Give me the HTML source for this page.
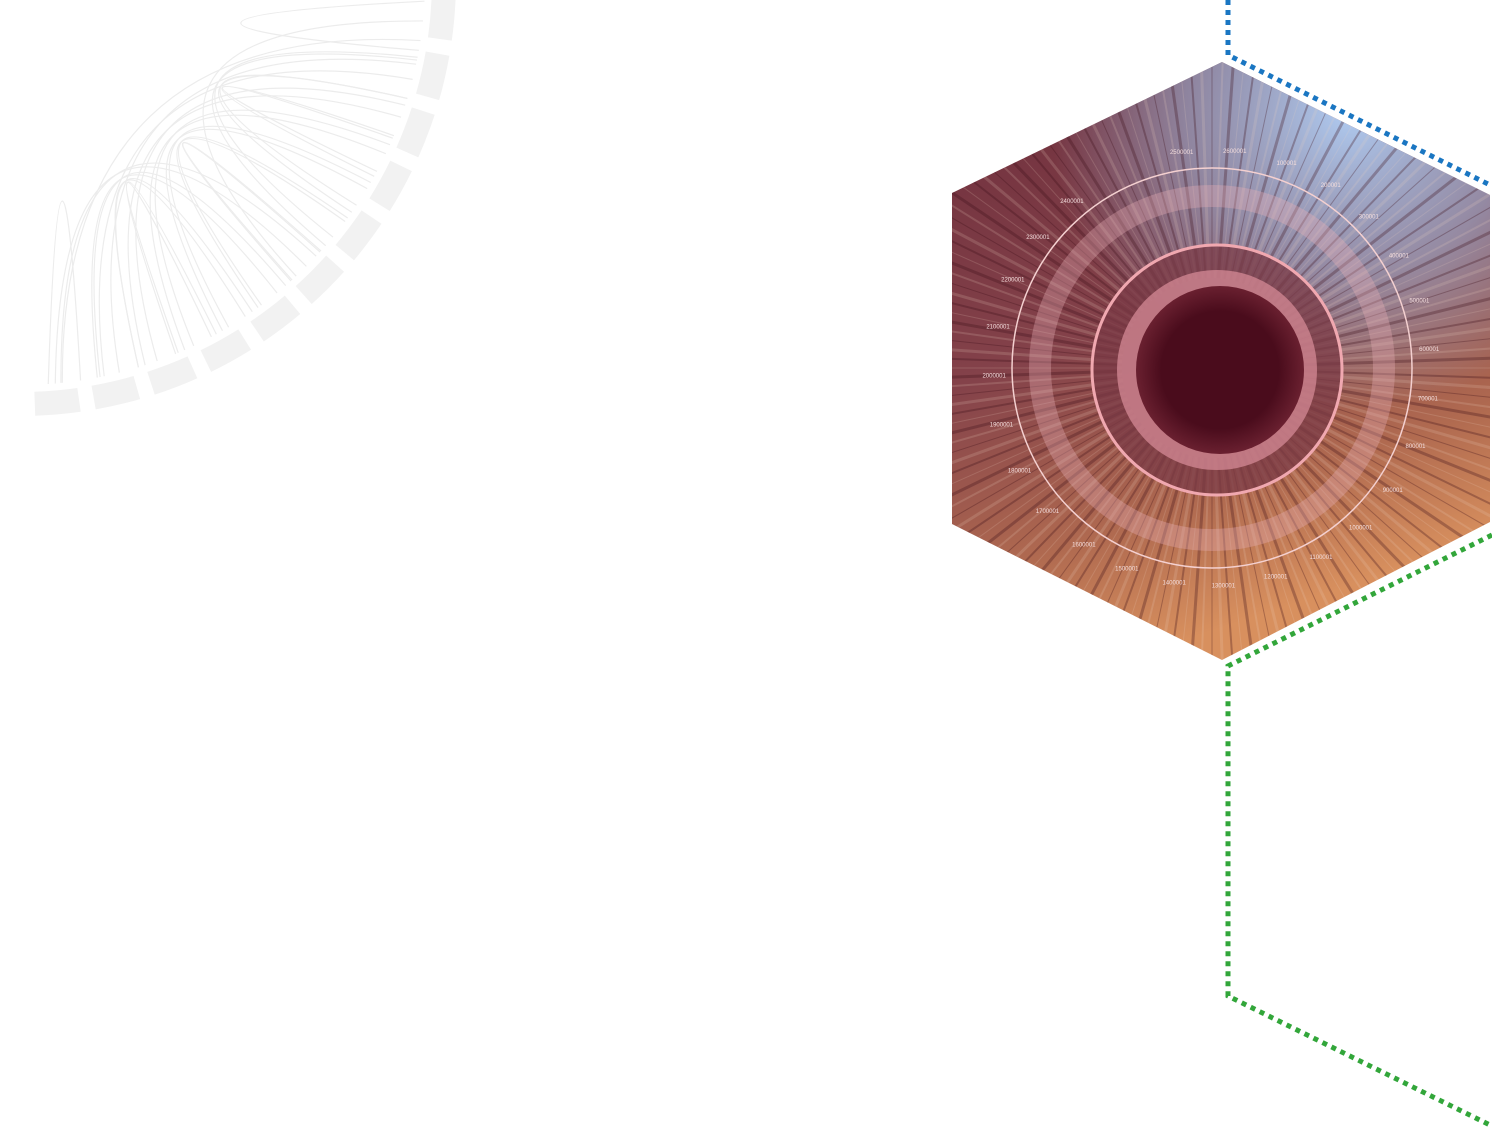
<!DOCTYPE html>
<html><head><meta charset="utf-8"><style>
html,body{margin:0;padding:0;background:#fff;width:1492px;height:1135px;overflow:hidden}
svg{display:block}
text{font-family:"Liberation Sans",sans-serif}
</style></head><body>
<svg id="root" width="1492" height="1135">
<defs>
<clipPath id="hex"><polygon points="1222,62 1490,195 1490,522 1222,660 952,524 952,193"/></clipPath>
<linearGradient id="bg" x1="0" y1="0" x2="0.3" y2="1">
<stop offset="0" stop-color="#6e2e3c"/><stop offset="0.5" stop-color="#84424a"/><stop offset="0.8" stop-color="#b06a50"/><stop offset="1" stop-color="#d8905e"/></linearGradient>
<radialGradient id="blue" cx="1350" cy="110" r="300" gradientUnits="userSpaceOnUse">
<stop offset="0" stop-color="#b0ccf2" stop-opacity="1"/><stop offset="0.55" stop-color="#9fb8dc" stop-opacity="0.6"/><stop offset="1" stop-color="#9fb4d8" stop-opacity="0"/></radialGradient>
<radialGradient id="pupil" cx="0.5" cy="0.5" r="0.5"><stop offset="0.7" stop-color="#4a0c1c"/><stop offset="1" stop-color="#6a2030"/></radialGradient>
</defs>
<g id="circos" stroke="#ececec" fill="none"></g>
<g clip-path="url(#hex)">
<rect x="950" y="60" width="545" height="605" fill="url(#bg)"/>
<rect x="950" y="60" width="545" height="605" fill="url(#blue)"/>
<g id="gills"></g>
<circle cx="1212" cy="368" r="172" fill="none" stroke="#e8b0b8" stroke-opacity="0.35" stroke-width="22"/>
<circle cx="1212" cy="368" r="200" fill="none" stroke="#f4d0d0" stroke-width="1.5"/>
<circle cx="1217" cy="370" r="125" fill="#7a3a46" fill-opacity="0.75" stroke="#f0a8b0" stroke-width="3"/>
<circle cx="1217" cy="370" r="100" fill="#d48a96" fill-opacity="0.75"/>
<circle cx="1220" cy="370" r="84" fill="url(#pupil)"/>
<g id="labels" fill="#f4dede" font-size="6"></g>
</g>
<polyline points="1228,0 1228,55 1492,186" fill="none" stroke="#1a76c2" stroke-width="5" stroke-dasharray="5,5"/>
<polyline points="1492,535 1228,666 1228,996 1492,1126" fill="none" stroke="#32a63a" stroke-width="5" stroke-dasharray="5,5"/>
</svg>
<script>
const ns="http://www.w3.org/2000/svg";
const labelVals=["2500001","2600001","100001","200001","300001","400001","500001","600001","700001","800001","900001","1000001","1100001","1200001","1300001","1400001","1500001","1600001","1700001","1800001","1900001","2000001","2100001","2200001","2300001","2400001"];
const labelAngles=[-98,-84,-70,-57,-44,-31,-18,-5,8,21,34,47,60,73,87,100,113,126,139,152,165,178,191,204,217,230];
const g=document.getElementById('gills');
for(let i=0;i<180;i++){const a=i*2*Math.PI/180;const l=document.createElementNS(ns,'line');
l.setAttribute('x1',1212+Math.cos(a)*90);l.setAttribute('y1',368+Math.sin(a)*90);
l.setAttribute('x2',1212+Math.cos(a)*420);l.setAttribute('y2',368+Math.sin(a)*420);
l.setAttribute('stroke',i%2?'#3a0c18':'#f0d0c0');l.setAttribute('stroke-opacity',i%2?0.3:0.18);l.setAttribute('stroke-width',i%3+1);


g.appendChild(l);}
const lb=document.getElementById('labels');
labelVals.forEach((v,i)=>{const a=labelAngles[i]*Math.PI/180;const t=document.createElementNS(ns,'text');
t.setAttribute('x',1212+Math.cos(a)*218);t.setAttribute('y',370+Math.sin(a)*218);t.setAttribute('text-anchor','middle');
t.textContent=v;


lb.appendChild(t);});
const c=document.getElementById('circos');
const cx=20,cy=-20;
for(let i=0;i<11;i++){const a0=(2+i*8)*Math.PI/180,a1=a0+6*Math.PI/180;
const p=document.createElementNS(ns,'path');const r1=412,r2=436;
p.setAttribute('d',`M${cx+r1*Math.cos(a0)},${cy+r1*Math.sin(a0)} A${r1},${r1} 0 0 1 ${cx+r1*Math.cos(a1)},${cy+r1*Math.sin(a1)} L${cx+r2*Math.cos(a1)},${cy+r2*Math.sin(a1)} A${r2},${r2} 0 0 0 ${cx+r2*Math.cos(a0)},${cy+r2*Math.sin(a0)}Z`);
p.setAttribute('fill','#f2f2f2');p.setAttribute('stroke','none');


c.appendChild(p);}
for(let i=0;i<30;i++){const a0=(3+i*2.8)*Math.PI/180,a1=(10+((i*37)%80))*Math.PI/180;const r=405;
const p=document.createElementNS(ns,'path');
p.setAttribute('d',`M${cx+r*Math.cos(a0)},${cy+r*Math.sin(a0)} Q${cx+40},${cy+40} ${cx+r*Math.cos(a1)},${cy+r*Math.sin(a1)}`);
p.setAttribute('stroke-width','1.2');


c.appendChild(p);}
</script>
</body></html>
